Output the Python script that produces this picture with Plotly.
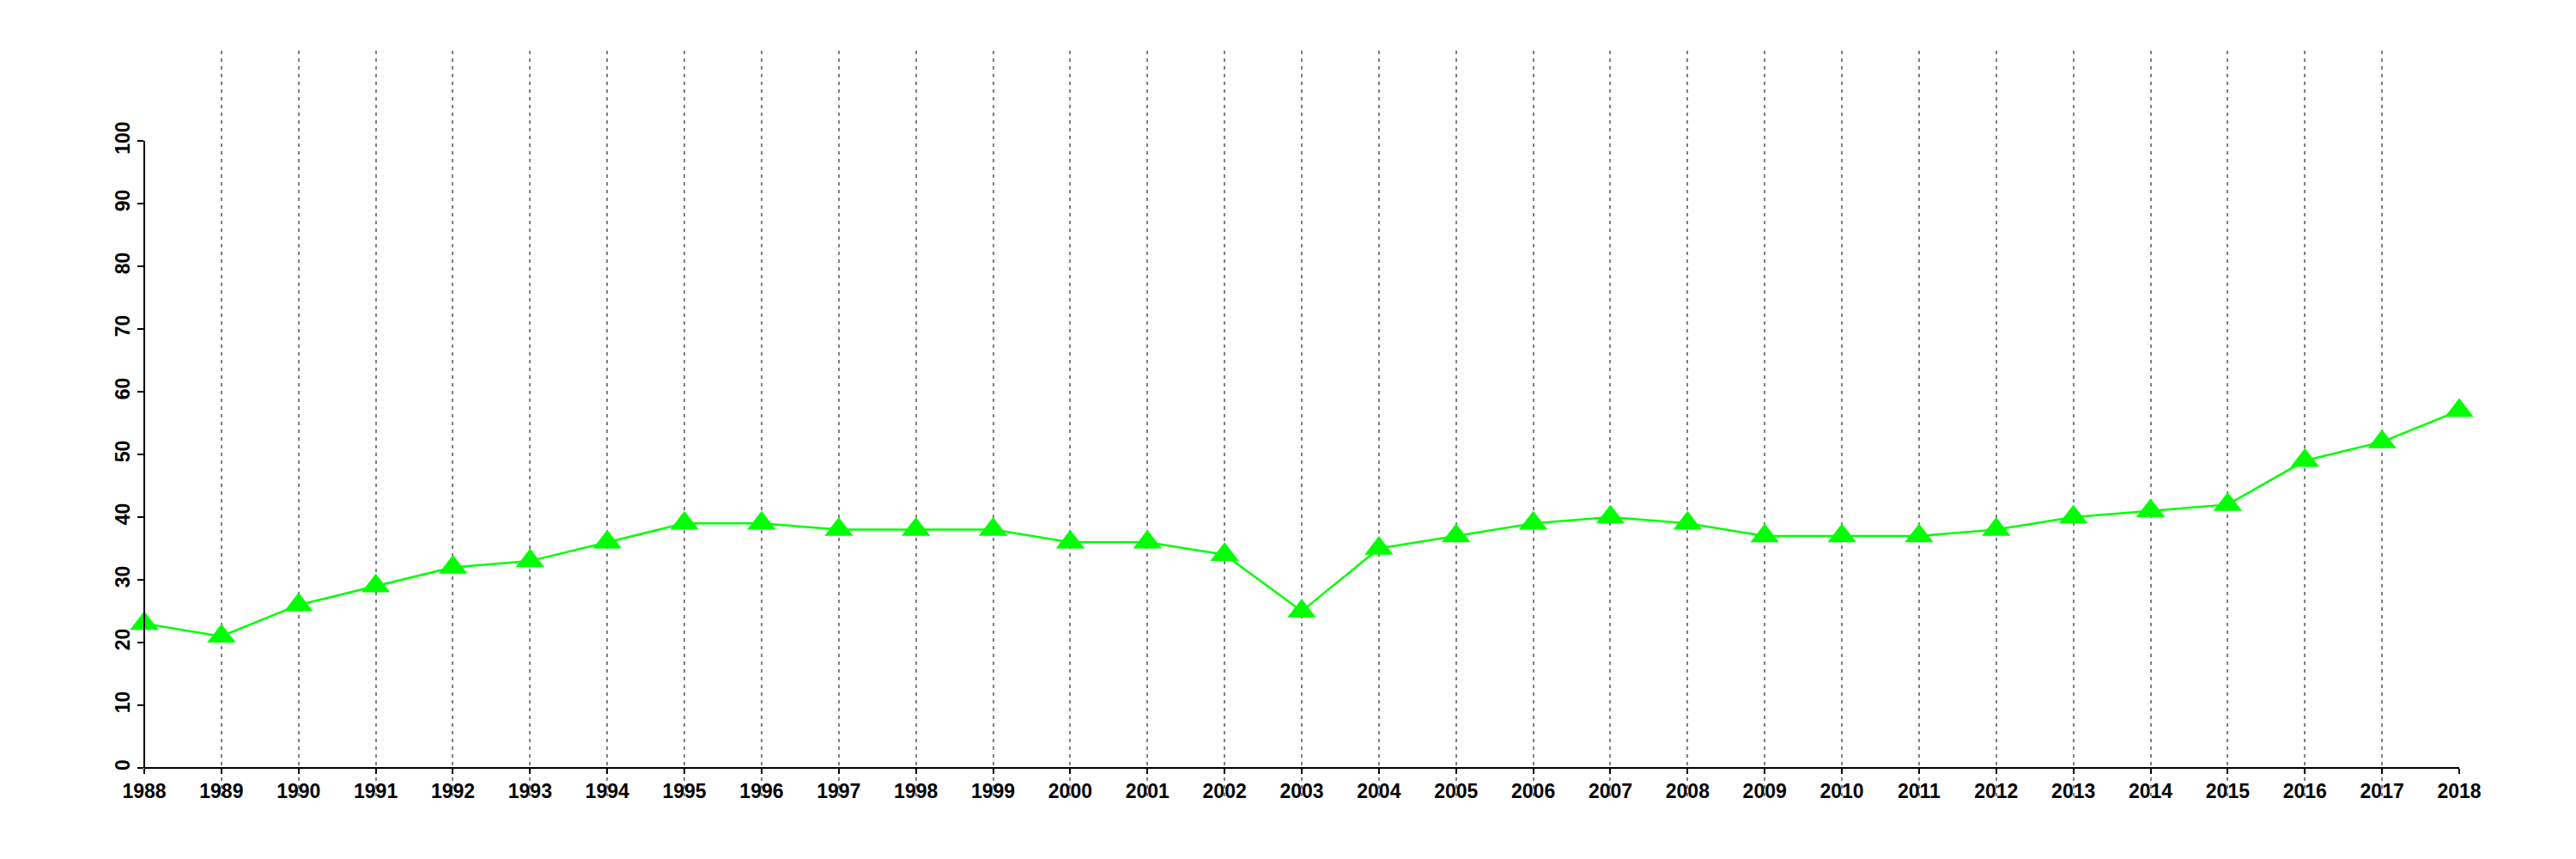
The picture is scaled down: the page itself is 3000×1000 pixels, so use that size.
import plotly.graph_objects as go

years = list(range(1988, 2019))
values = [23, 21, 26, 29, 32, 33, 36, 39, 39, 38, 38, 38, 36, 36, 34, 25,
          35, 37, 39, 40, 39, 37, 37, 37, 38, 40, 41, 42, 49, 52, 57]
y_ticks = list(range(0, 101, 10))

W, H = 3000, 1000
# page body has a small offset; margins compensate for it
left, right, top, bottom = 160, 144, 51, 81
y_lo, y_hi = -4.52, 114.38
x_axis_pos = (0 - y_lo) / (y_hi - y_lo)

font = dict(family="Liberation Sans, Arial, sans-serif", size=23, color="black", weight="bold")

fig = go.Figure()
fig.add_trace(go.Scatter(
    x=years, y=values, mode="lines+markers",
    line=dict(color="#00FF00", width=2.5),
    marker=dict(symbol="triangle-up", size=29, color="#00FF00", line=dict(width=0)),
    cliponaxis=False, showlegend=False,
))

fig.update_layout(
    width=W, height=H,
    margin=dict(l=left, r=right, t=top, b=bottom, pad=0),
    paper_bgcolor="white", plot_bgcolor="white",
    xaxis=dict(
        range=[years[0], years[-1]], tickmode="array", tickvals=years,
        ticktext=[str(y) for y in years],
        anchor="free", position=x_axis_pos,
        showline=True, linecolor="black", linewidth=2,
        ticks="outside", ticklen=6, tickwidth=2, tickcolor="black",
        showgrid=True, gridcolor="#7f7f7f", gridwidth=2, griddash="4px,5px",
        zeroline=False, tickfont=font,
    ),
    yaxis=dict(
        range=[y_lo, y_hi], tickmode="array", tickvals=y_ticks,
        ticktext=[str(v) for v in y_ticks], tickangle=-90,
        showline=False, ticks="outside", ticklen=7, tickwidth=2, tickcolor="black",
        showgrid=False, zeroline=False, tickfont=font,
    ),
)

fig.add_shape(type="line", xref="x domain", yref="y", x0=0, x1=0,
              y0=y_ticks[0], y1=y_ticks[-1], line=dict(color="black", width=2))

fig.write_html("out.html")
